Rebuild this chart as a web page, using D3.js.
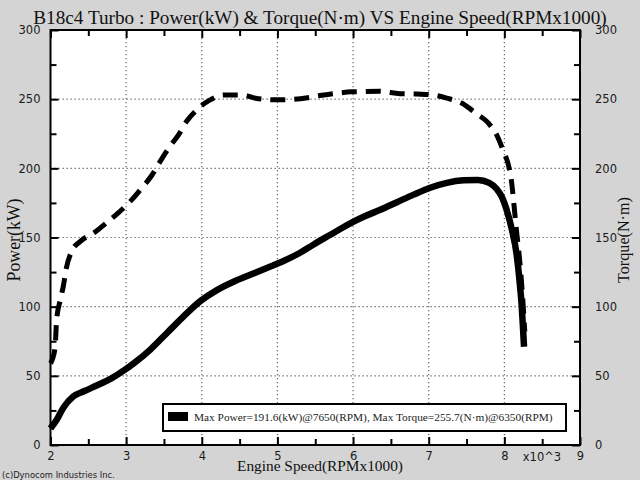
<!DOCTYPE html>
<html><head><meta charset="utf-8">
<script src="https://cdn.jsdelivr.net/npm/d3@7"></script>
<style>
html,body{margin:0;padding:0;background:#d4d4d4;}
svg{display:block;}
</style></head>
<body>
<svg id="c" width="640" height="480"></svg>
<script>
// ---- data ----
const powerRpm = [2.00,2.08,2.17,2.30,2.45,2.61,2.80,3.00,3.10,3.32,3.54,3.76,3.98,4.20,4.42,4.64,4.86,5.08,5.30,5.48,5.70,5.92,6.14,6.36,6.58,6.80,7.02,7.24,7.46,7.65,7.80,7.90,7.97,8.03,8.10,8.16,8.20,8.23,8.25,8.26];
const powerKW  = [12,18,27,35,39,43,48,55,59,69,81,93,104,112,118,123,128,133,139,145,152,159,165,170,175.5,181,186,189.5,191.3,191.6,189.5,185,179,170,155.5,138.6,119,100,81,71];
const torqueRpm = [2.00,2.06,2.08,2.13,2.17,2.21,2.28,2.39,2.59,2.77,2.90,3.07,3.21,3.34,3.45,3.56,3.69,3.80,3.93,4.11,4.29,4.53,4.71,4.99,5.20,5.40,5.56,5.79,5.98,6.35,6.62,6.82,7.06,7.24,7.44,7.62,7.79,7.90,7.99,8.06,8.10,8.13,8.16,8.20,8.24,8.27];
const torqueNm  = [59,70,90,105,115,128,140,147,154,162,168,177,186,195,205,214.5,224,234,242,249.5,253,253,250.7,249.5,249.8,251,252.6,254.3,255.3,255.7,254,253.8,253,250.7,247,240,232.6,224,212,201,188,172,155,135,108,82];
const xMajor = [2,3,4,5,6,7,8,9];
const xMinor = [2.5,3.5,4.5,5.5,6.5,7.5,8.5];
const yMajor = [0,50,100,150,200,250,300];
const yMinor = [25,75,125,175,225,275];
const xGrid = [3,4,5,6,7,8];
const yGrid = [50,100,150,200,250];
const titleText = "B18c4 Turbo : Power(kW) & Torque(N\u00b7m) VS Engine Speed(RPMx1000)";
const legendText = "Max Power=191.6(kW)@7650(RPM), Max Torque=255.7(N\u00b7m)@6350(RPM)";

// ---- layout ----
const L=50.5, R=580, T=30, B=445;
const svg = d3.select("#c");
svg.append("rect").attr("width",640).attr("height",480).attr("fill","#d4d4d4");
const x = d3.scaleLinear().domain([2,9]).range([L,R]);
const y = d3.scaleLinear().domain([0,300]).range([B,T]);

svg.append("rect").attr("x",L).attr("y",T).attr("width",R-L).attr("height",B-T).attr("fill","#fff");

// grid
const g = svg.append("g");
g.selectAll(".gx").data(xGrid).join("line")
  .attr("x1",d=>x(d)).attr("x2",d=>x(d)).attr("y1",T).attr("y2",B)
  .attr("stroke","#666").attr("stroke-width",1.2).attr("stroke-dasharray","1.3,2.7");
g.selectAll(".gy").data(yGrid).join("line")
  .attr("y1",d=>y(d)).attr("y2",d=>y(d)).attr("x1",L).attr("x2",R)
  .attr("stroke","#666").attr("stroke-width",1.2).attr("stroke-dasharray","1.3,2.7");

// curves
const lineP = d3.line().x((d,i)=>x(powerRpm[i])).y(d=>y(d)).curve(d3.curveMonotoneX);
svg.append("path").attr("d",lineP(powerKW)).attr("fill","none").attr("stroke","#000")
  .attr("stroke-width",6.5).attr("stroke-linejoin","round");
const lineT = d3.line().x((d,i)=>x(torqueRpm[i])).y(d=>y(d)).curve(d3.curveMonotoneX);
svg.append("path").attr("d",lineT(torqueNm)).attr("fill","none").attr("stroke","#000")
  .attr("stroke-width",5).attr("stroke-dasharray","15,9");

// ticks (inward)
function styleTicks(sel){ sel.select(".domain").remove(); sel.selectAll("line").attr("stroke","#000").attr("stroke-width",2); sel.selectAll("text").remove(); }
svg.append("g").attr("transform",`translate(0,${B})`).call(d3.axisBottom(x).tickValues(xMajor).tickSize(-8)).call(styleTicks);
svg.append("g").attr("transform",`translate(0,${B})`).call(d3.axisBottom(x).tickValues(xMinor).tickSize(-6)).call(styleTicks);
svg.append("g").attr("transform",`translate(0,${T})`).call(d3.axisTop(x).tickValues(xMajor).tickSize(-8)).call(styleTicks);
svg.append("g").attr("transform",`translate(0,${T})`).call(d3.axisTop(x).tickValues(xMinor).tickSize(-6)).call(styleTicks);
svg.append("g").attr("transform",`translate(${L},0)`).call(d3.axisLeft(y).tickValues(yMajor).tickSize(-8)).call(styleTicks);
svg.append("g").attr("transform",`translate(${L},0)`).call(d3.axisLeft(y).tickValues(yMinor).tickSize(-6)).call(styleTicks);
svg.append("g").attr("transform",`translate(${R},0)`).call(d3.axisRight(y).tickValues(yMajor).tickSize(-8)).call(styleTicks);
svg.append("g").attr("transform",`translate(${R},0)`).call(d3.axisRight(y).tickValues(yMinor).tickSize(-6)).call(styleTicks);

// frame
svg.append("rect").attr("x",L).attr("y",T).attr("width",R-L).attr("height",B-T)
  .attr("fill","none").attr("stroke","#000").attr("stroke-width",2);

// tick labels
function styleLabels(sel){ sel.select(".domain").remove(); sel.selectAll("line").remove();
  sel.selectAll("text").attr("fill","#1a1a1a").style("font-family","'DejaVu Sans'").style("font-size","11.5px"); }
svg.append("g").attr("transform",`translate(0,${B})`).call(d3.axisBottom(x).tickValues(xMajor).tickSize(0).tickPadding(7).tickFormat(d3.format("d"))).call(styleLabels);
svg.append("g").attr("transform",`translate(${L},0)`).call(d3.axisLeft(y).tickValues(yMajor).tickSize(0).tickPadding(10).tickFormat(d3.format("d"))).call(styleLabels);
svg.append("g").attr("transform",`translate(${R},0)`).call(d3.axisRight(y).tickValues(yMajor).tickSize(0).tickPadding(15).tickFormat(d3.format("d"))).call(styleLabels);
svg.append("text").attr("x",542).attr("y",461).attr("text-anchor","middle").attr("fill","#1a1a1a")
  .style("font-family","'DejaVu Sans'").style("font-size","11.5px").text("x10^3");

function fit(t, w){ let fs=parseFloat(t.style("font-size")); const cur=t.node().getComputedTextLength(); t.style("font-size",(fs*w/cur)+"px"); }
const serif = "'Liberation Serif','Times New Roman',serif";

const title = svg.append("text").attr("x",320).attr("y",24).attr("text-anchor","middle").attr("fill","#111")
  .style("font-family",serif).style("font-size","18px").text(titleText);
fit(title,574);

const xl = svg.append("text").attr("x",320).attr("y",471).attr("text-anchor","middle").attr("fill","#111")
  .style("font-family",serif).style("font-size","16px").text("Engine Speed(RPMx1000)");
fit(xl,166);

const yl = svg.append("text").attr("transform","translate(20,240) rotate(-90)").attr("text-anchor","middle").attr("fill","#111")
  .style("font-family",serif).style("font-size","16px").text("Power(kW)");
fit(yl,83);
const yr = svg.append("text").attr("transform","translate(629,240) rotate(-90)").attr("text-anchor","middle").attr("fill","#111")
  .style("font-family",serif).style("font-size","16px").text("Torque(N\u00b7m)");
fit(yr,86);

// legend
svg.append("rect").attr("x",163).attr("y",404).attr("width",403).attr("height",27)
  .attr("fill","#fff").attr("stroke","#000").attr("stroke-width",2);
svg.append("rect").attr("x",168).attr("y",412).attr("width",20).attr("height",9).attr("fill","#000");
const lt = svg.append("text").attr("x",194).attr("y",421).attr("fill","#222")
  .style("font-family",serif).style("font-size","12px").text(legendText);
fit(lt,359);

const cp = svg.append("text").attr("x",2).attr("y",478).attr("fill","#222")
  .style("font-family","'DejaVu Sans'").style("font-size","9px").text("(c)Dynocom Industries Inc.");
fit(cp,113);
</script>
</body></html>
